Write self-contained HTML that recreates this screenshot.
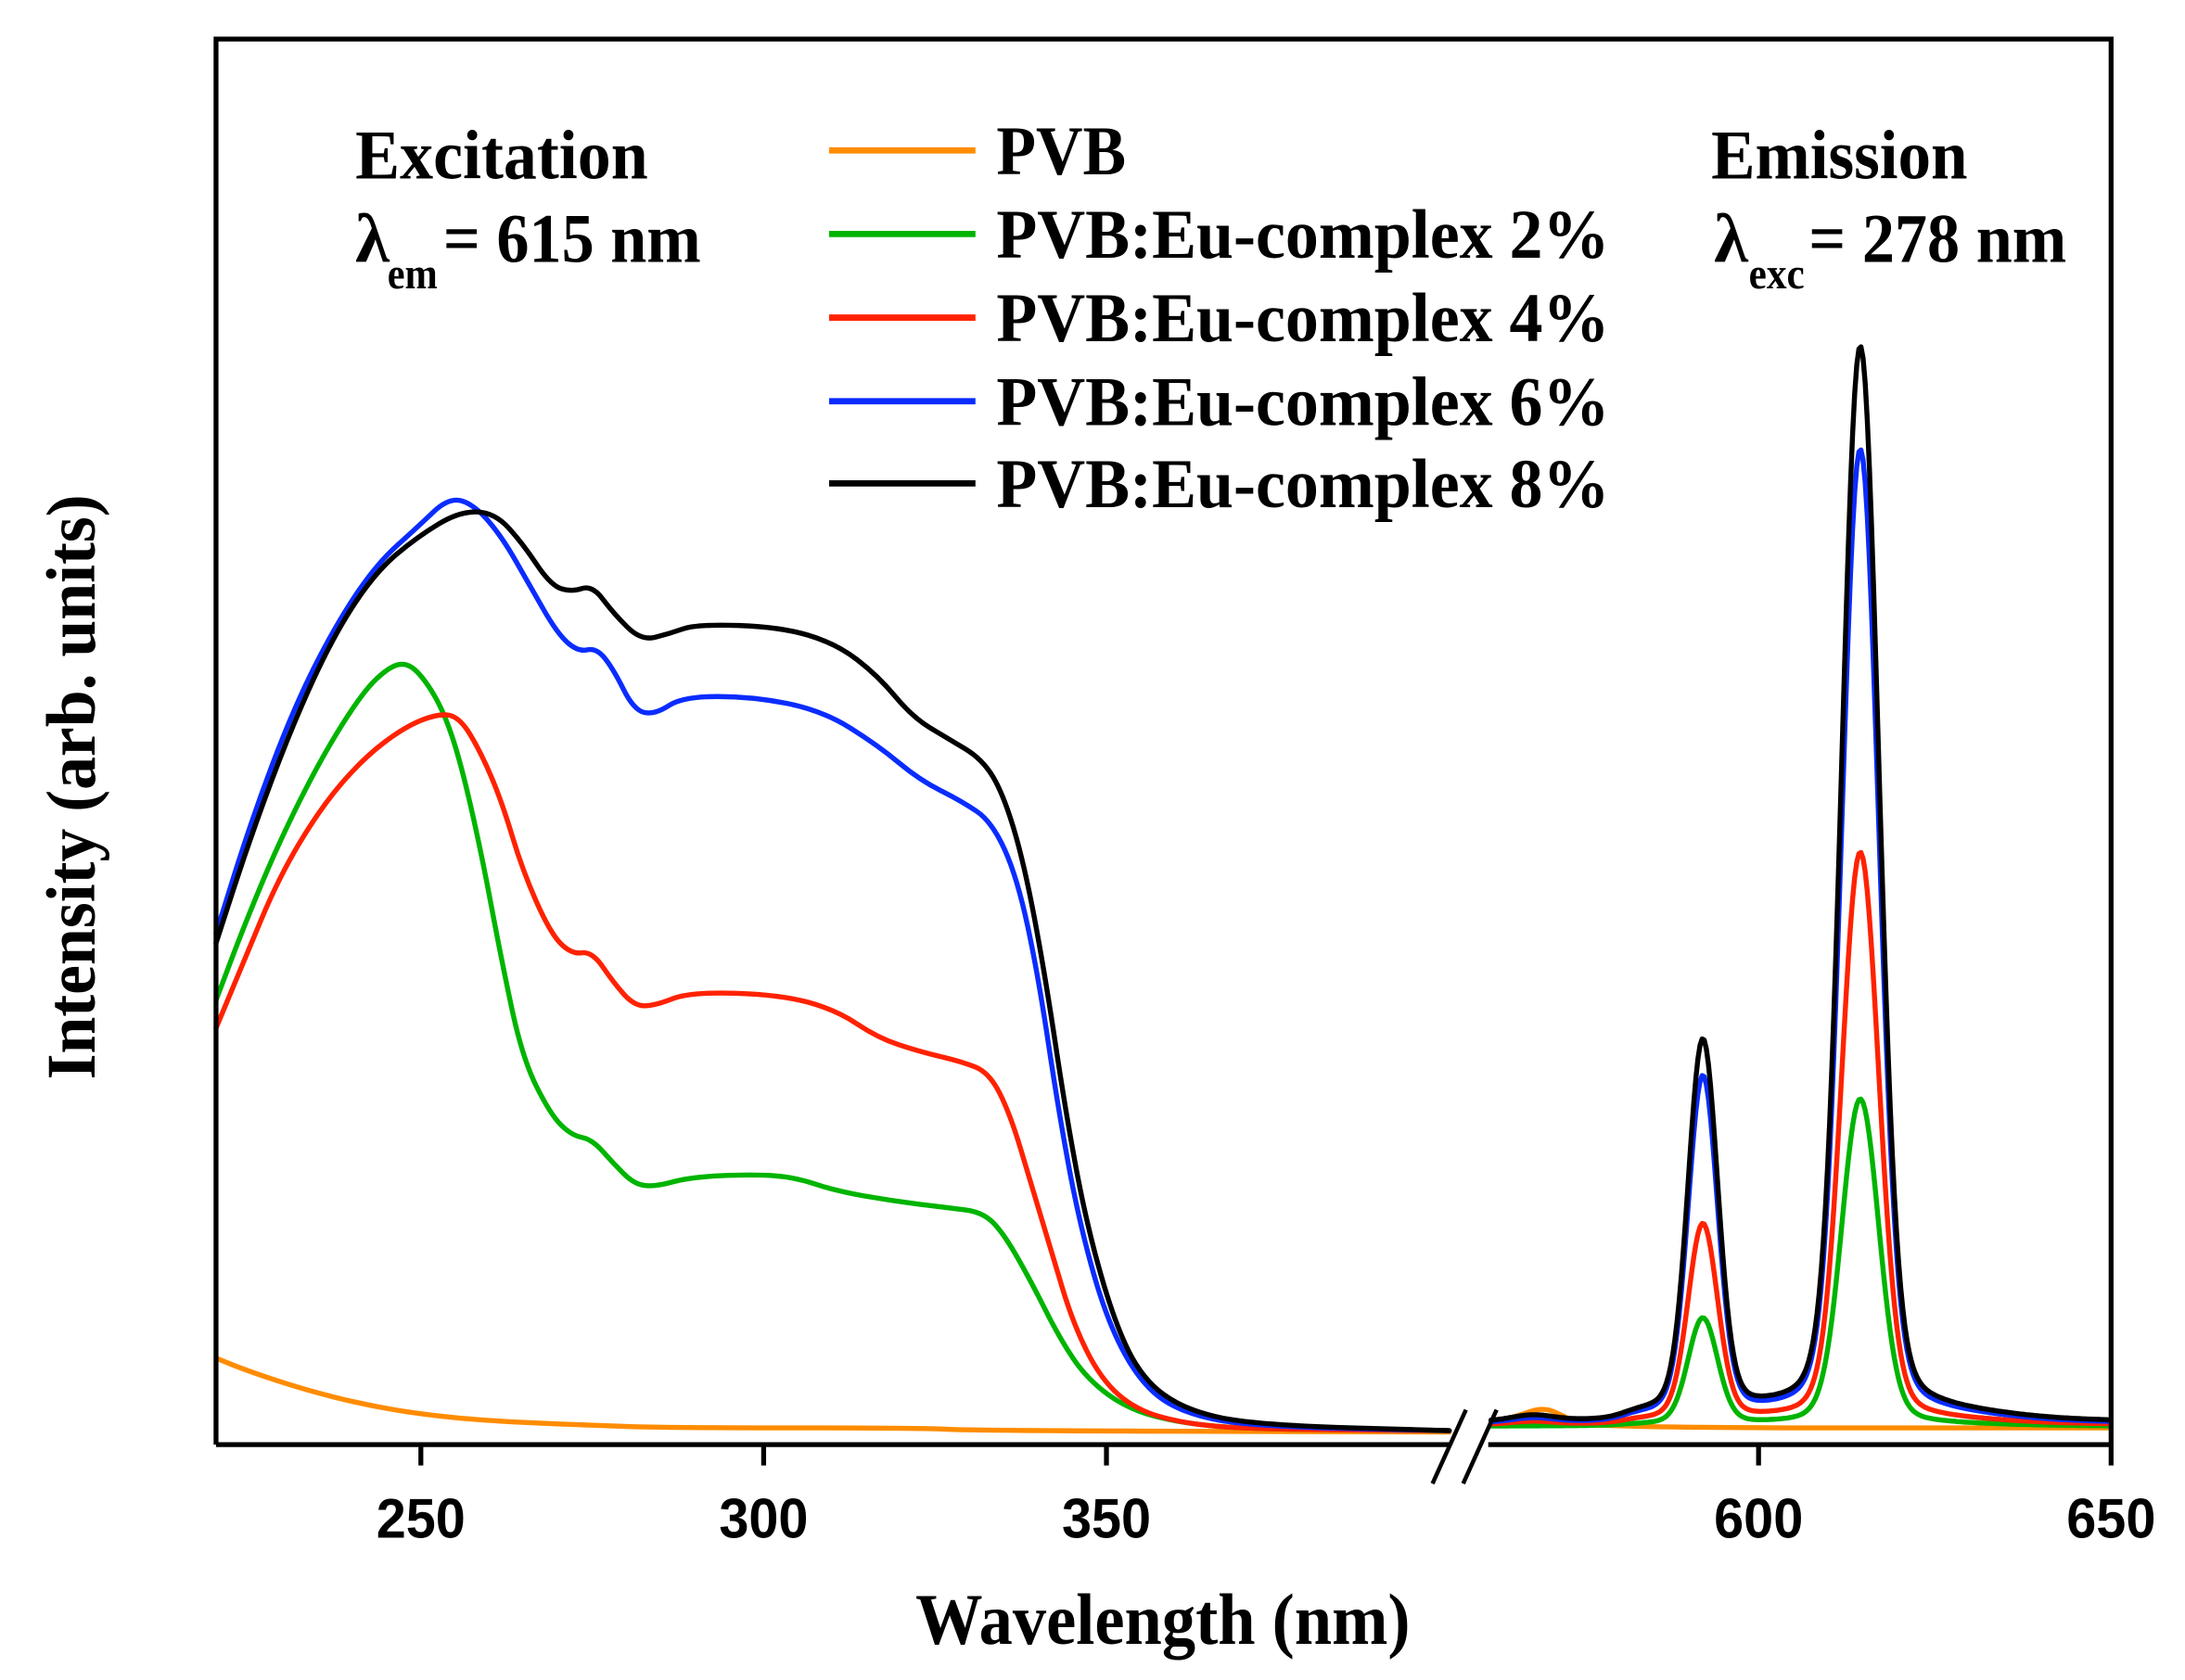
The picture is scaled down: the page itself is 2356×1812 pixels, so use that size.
<!DOCTYPE html>
<html><head><meta charset="utf-8"><style>
html,body{margin:0;padding:0;background:#fff;}
svg{display:block;}
.t{font-family:"Liberation Serif",serif;font-weight:bold;fill:#000;}
.n{font-family:"Liberation Sans",sans-serif;font-weight:bold;fill:#000;}
path.c{fill:none;stroke-width:3.6;stroke-linejoin:round;stroke-linecap:round;}
</style></head><body>
<svg id="s" width="2356" height="1812" viewBox="0 0 1568 1206" xmlns="http://www.w3.org/2000/svg">
<rect width="1568" height="1206" fill="#fff"/>
<g id="curves"></g>
<path d="M155,1037 L155,28 L1515,28 L1515,1037" fill="none" stroke="#000" stroke-width="3.5"/>
<line x1="155" y1="1037" x2="1040" y2="1037" stroke="#000" stroke-width="3.5"/>
<line x1="1068" y1="1037" x2="1515" y2="1037" stroke="#000" stroke-width="3.5"/>
<line x1="1028" y1="1065" x2="1052" y2="1012" stroke="#000" stroke-width="3"/>
<line x1="1050" y1="1065" x2="1074" y2="1012" stroke="#000" stroke-width="3"/>
<g stroke="#000" stroke-width="3.5">
<line x1="302" y1="1037" x2="302" y2="1052"/>
<line x1="548" y1="1037" x2="548" y2="1052"/>
<line x1="794" y1="1037" x2="794" y2="1052"/>
<line x1="1262" y1="1037" x2="1262" y2="1052"/>
<line x1="1515" y1="1037" x2="1515" y2="1052"/>
</g>
<g class="n" font-size="40" text-anchor="middle">
<text x="302" y="1104" textLength="64" lengthAdjust="spacingAndGlyphs">250</text>
<text x="548" y="1104" textLength="64" lengthAdjust="spacingAndGlyphs">300</text>
<text x="794" y="1104" textLength="64" lengthAdjust="spacingAndGlyphs">350</text>
<text x="1262" y="1104" textLength="64" lengthAdjust="spacingAndGlyphs">600</text>
<text x="1515" y="1104" textLength="64" lengthAdjust="spacingAndGlyphs">650</text>
</g>
<text class="t" x="657" y="1180" font-size="52" textLength="355" lengthAdjust="spacingAndGlyphs">Wavelength (nm)</text>
<text class="t" transform="translate(68,775) rotate(-90)" font-size="50" textLength="420" lengthAdjust="spacingAndGlyphs">Intensity (arb. units)</text>
<text class="t" x="255" y="128" font-size="50" textLength="210" lengthAdjust="spacingAndGlyphs">Excitation</text>
<text class="t" x="255" y="188" font-size="50">λ</text>
<text class="t" x="278" y="207" font-size="32" textLength="36" lengthAdjust="spacingAndGlyphs">em</text>
<text class="t" x="318" y="188" font-size="50" textLength="185" lengthAdjust="spacingAndGlyphs">= 615 nm</text>
<text class="t" x="1228" y="128" font-size="50" textLength="184" lengthAdjust="spacingAndGlyphs">Emission</text>
<text class="t" x="1230" y="188" font-size="50">λ</text>
<text class="t" x="1255" y="207" font-size="32" textLength="40" lengthAdjust="spacingAndGlyphs">exc</text>
<text class="t" x="1298" y="188" font-size="50" textLength="185" lengthAdjust="spacingAndGlyphs">= 278 nm</text>
<g stroke-width="4.5">
<line x1="595" y1="108" x2="700" y2="108" stroke="#ff8c00"/>
<line x1="595" y1="168" x2="700" y2="168" stroke="#00b400"/>
<line x1="595" y1="228" x2="700" y2="228" stroke="#ff2200"/>
<line x1="595" y1="288" x2="700" y2="288" stroke="#0a2cff"/>
<line x1="595" y1="347" x2="700" y2="347" stroke="#000"/>
</g>
<g class="t" font-size="50">
<text x="715" y="125" textLength="93" lengthAdjust="spacingAndGlyphs">PVB</text>
<text x="715" y="185" textLength="440" lengthAdjust="spacingAndGlyphs">PVB:Eu-complex 2%</text>
<text x="715" y="245" textLength="440" lengthAdjust="spacingAndGlyphs">PVB:Eu-complex 4%</text>
<text x="715" y="305" textLength="440" lengthAdjust="spacingAndGlyphs">PVB:Eu-complex 6%</text>
<text x="715" y="364" textLength="440" lengthAdjust="spacingAndGlyphs">PVB:Eu-complex 8%</text>
</g>
</svg>
<script>
(function(){
var ns="http://www.w3.org/2000/svg",g=document.getElementById("curves");
function poly(pts){var d="M"+pts[0][0]+","+pts[0][1];
 for(var i=1;i<pts.length;i++){var p0=pts[i-1],p1=pts[i],mx=(p0[0]+p1[0])/2,my=(p0[1]+p1[1])/2;d+=" Q"+p0[0]+","+p0[1]+" "+mx+","+my;}
 var l=pts[pts.length-1];d+=" L"+l[0]+","+l[1];return d;}
function lin(pts){var d="M"+pts[0][0]+","+pts[0][1];for(var i=1;i<pts.length;i++)d+=" L"+pts[i][0]+","+pts[i][1];return d;}
function add(d,c){var p=document.createElementNS(ns,"path");p.setAttribute("d",d);p.setAttribute("class","c");p.setAttribute("stroke",c);g.appendChild(p);}
function em(h1,h2,base,bump,k){var pts=[];for(var x=1070;x<=1513;x+=1.5){var y=base;
 var a=(x-1222)/10.5,b=(x-1335)/13,c=(x-1100)/15;
 y-=h1*(0.85*Math.exp(-a*a/2)+0.15/(1+a*a/2));
 y-=h2*(0.88*Math.exp(-b*b/2)+0.12/(1+b*b/3));
 y-=bump*Math.exp(-c*c/2);
 var s=1/(1+Math.exp(-(x-1165)/6));var e=1/(1+Math.exp((x-1440)/25));
 y-=k*s*e;
 pts.push([x,Math.round(y*10)/10]);}return pts;}
var orange=[[155,975],[180,985],[220,998],[260,1008],[300,1015],[350,1020],[420,1023],[480,1025],[660,1025],[700,1027],[1040,1028]];
var orangeR=[[1070,1022],[1090,1016],[1108,1010],[1125,1018],[1140,1025],[1515,1025]];
var green=[[155,718],[175,665],[200,605],[230,545],[260,497],[280,478],[293,476],[305,488],[318,510],[330,545],[345,610],[360,690],[375,760],[395,800],[410,815],[425,818],[440,835],[455,850],[470,852],[495,845],[540,843],[570,845],[600,855],[640,862],[680,867],[705,870],[720,885],[740,920],[760,960],[780,990],[810,1012],[850,1022],[900,1026],[1040,1027]];
var red=[[155,738],[175,690],[200,630],[230,580],[260,545],[290,522],[315,512],[330,515],[345,540],[360,575],[375,625],[395,670],[410,685],[425,683],[440,705],[455,722],[470,722],[495,712],[560,714],[600,725],[630,745],[660,755],[690,762],[710,770],[725,800],[740,850],[755,900],[770,950],[790,990],[815,1012],[850,1022],[900,1026],[1040,1027]];
var blue=[[155,670],[180,590],[210,510],[240,450],[270,405],[300,378],[322,357],[340,362],[360,385],[380,420],[400,455],[415,468],[428,465],[440,480],[455,510],[470,513],[490,500],[540,500],[590,510],[630,535],[660,560],[690,575],[712,590],[730,630],[745,700],[760,800],[775,880],[795,950],[820,995],[850,1015],[900,1024],[1040,1027]];
var black=[[155,677],[180,600],[210,520],[240,455],[270,410],[300,385],[330,367],[355,368],[375,390],[395,420],[410,425],[425,420],[440,440],[460,460],[480,455],[500,448],[560,450],[600,462],[630,485],[655,515],[680,530],[705,545],[720,570],[735,620],[750,700],[765,800],[780,880],[800,950],[820,990],[850,1012],[900,1023],[1040,1027]];
add(poly(orange),"#ff8c00");add(poly(orangeR),"#ff8c00");
add(poly(green),"#00b400");add(lin(em(76,234,1024,0,1)),"#00b400");
add(poly(red),"#ff2200");add(lin(em(140,408,1023,2,3)),"#ff2200");
add(poly(blue),"#0a2cff");add(lin(em(242,694,1022,3,5)),"#0a2cff");
add(poly(black),"#000");add(lin(em(266,766,1021,4,6)),"#000");
})();
</script>
</body></html>
